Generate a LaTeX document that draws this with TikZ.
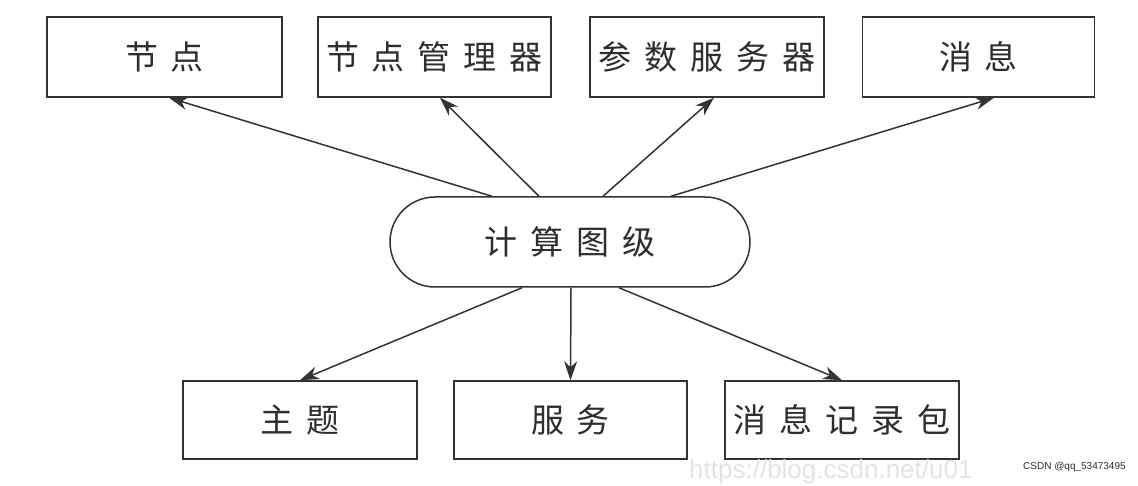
\documentclass[tikz,border=0pt]{standalone}
\usepackage{fontspec}
\newfontfamily\cjk{Noto Sans CJK SC}
\setsansfont{Liberation Sans}
\usetikzlibrary{arrows.meta,shapes.misc}
\definecolor{ink}{HTML}{333333}
\definecolor{txt}{HTML}{2E2E2E}
\definecolor{wm}{HTML}{E4E4E4}
\def\g{\hspace{13pt}}
\begin{document}
\begin{tikzpicture}[x=1pt,y=-1pt,
  box/.style={draw=ink,line width=1.5pt,rectangle,minimum height=80pt,inner sep=0pt,
    font=\cjk\fontsize{33pt}{33pt}\selectfont,text=txt},
  stadium/.style={draw=ink,line width=1.5pt,rounded rectangle,minimum width=360pt,minimum height=90pt,inner sep=0pt,
    font=\cjk\fontsize{33pt}{33pt}\selectfont,text=txt},
  link/.style={draw=ink,line width=1.5pt,-{Stealth[length=19pt,width=13pt,inset=6pt]}}]
\fill[white] (0,0) rectangle (1138,486);
\useasboundingbox (0,0) rectangle (1138,486);
% top row
\node[box,minimum width=235pt] (n1) at (164.5,57) {节\g 点};
\node[box,minimum width=233pt] (n2) at (434.5,57) {节\g 点\g 管\g 理\g 器};
\node[box,minimum width=234pt] (n3) at (707,57) {参\g 数\g 服\g 务\g 器};
\node[box,minimum width=232pt] (n4) at (978.5,57) {消\g 息};
% centre
\node[stadium] (c) at (570,242) {计\g 算\g 图\g 级};
% bottom row
\node[box,minimum width=234pt,minimum height=78pt] (b1) at (300,420) {主\g 题};
\node[box,minimum width=233pt,minimum height=78pt] (b2) at (570.5,420) {服\g 务};
\node[box,minimum width=234pt,minimum height=78pt] (b3) at (842,420) {消\g 息\g 记\g 录\g 包};
% connectors
\draw[link] ([xshift=-78pt]c.north) -- ([xshift=4.5pt]n1.south);
\draw[link] ([xshift=-31pt]c.north) -- ([xshift=5.5pt]n2.south);
\draw[link] ([xshift=33pt]c.north) -- ([xshift=7pt]n3.south);
\draw[link] ([xshift=101pt]c.north) -- ([xshift=15.5pt]n4.south);
\draw[link] ([xshift=-48pt]c.south) -- (b1.north);
\draw[link] ([xshift=1pt]c.south) -- (b2.north);
\draw[link] ([xshift=49pt]c.south) -- (b3.north);
% watermark
\node[anchor=base west,inner sep=0pt,text=wm,font=\sffamily\fontsize{26pt}{26pt}\selectfont] (wm) at (689,478) {https://blog.csdn.net/u01};
\node[anchor=west,inner sep=1pt,text=txt,font=\sffamily\fontsize{10pt}{10pt}\selectfont] (csdn) at (1022,467) {CSDN @qq\_53473495};
\end{tikzpicture}
\end{document}
